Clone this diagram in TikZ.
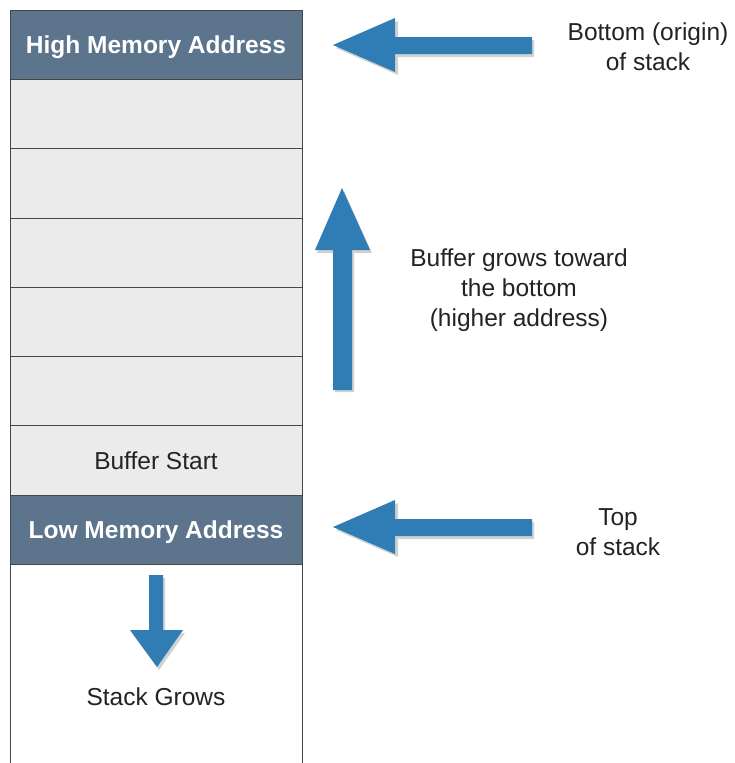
\documentclass[tikz,border=0pt]{standalone}
\usepackage{fontspec}
\setmainfont{Liberation Sans}
\definecolor{hdr}{RGB}{92,117,141}
\definecolor{rowgray}{RGB}{235,235,235}
\definecolor{edge}{RGB}{70,70,70}
\definecolor{ablue}{RGB}{47,125,180}
\definecolor{txt}{RGB}{35,35,35}
\tikzset{
  cell/.style={draw=edge, line width=0.8pt, minimum width=292pt, minimum height=69.25pt, inner sep=0pt, outer sep=0pt, text height=17.5pt, text depth=0pt},
  hdrcell/.style={cell, fill=hdr, text=white, font=\bfseries\fontsize{24.5}{30}\selectfont},
  graycell/.style={cell, fill=rowgray, text=txt, font=\fontsize{24.5}{30}\selectfont},
  lbl/.style={align=center, text=txt, font=\fontsize{24.5}{30}\selectfont, inner sep=0pt},
  bigarrow/.style={fill=ablue, draw=none},
  ashadow/.style={fill=black, opacity=0.18, draw=none},
}
\begin{document}
\begin{tikzpicture}[x=1pt, y=-1pt]
\path[use as bounding box, fill=white] (0,0) rectangle (735,763);
% bottom white region (open at the bottom)
\draw[edge, line width=0.8pt] (10,564) -- (10,770) (302,564) -- (302,770);
% stack cells
\node[hdrcell] (high) at (156,44.75) {High Memory Address};
\node[graycell] (r1) at (156,114.1) {};
\node[graycell] (r2) at (156,183.4) {};
\node[graycell] (r3) at (156,252.6) {};
\node[graycell] (r4) at (156,321.9) {};
\node[graycell] (r5) at (156,391.1) {};
\node[graycell] (bufstart) at (156,460.4) {Buffer Start};
\node[hdrcell] (low) at (156,529.7) {Low Memory Address};
% labels
\node[lbl] (bottomlbl) at (648,47) {Bottom (origin)\\of stack};
\node[lbl] (growlbl) at (519,290) {Buffer grows toward\\the bottom\\(higher address)};
\node[lbl] (toplbl) at (618,532) {Top\\of stack};
\node[lbl] (stackgrows) at (156,697) {Stack Grows};
% arrow shadows
\fill[ashadow] (336,48) -- (398,21) -- (398,40) -- (534,40) -- (534,57) -- (398,57) -- (398,75) -- cycle;
\fill[ashadow] (336,530) -- (398,503) -- (398,522) -- (534,522) -- (534,539) -- (398,539) -- (398,557) -- cycle;
\fill[ashadow] (344,191) -- (372,253) -- (354,253) -- (354,392) -- (335,392) -- (335,253) -- (317,253) -- cycle;
\fill[ashadow] (150,578) -- (165,578) -- (165,633) -- (185,633) -- (159,670) -- (132,633) -- (150,633) -- cycle;
% arrows
\fill[bigarrow] (333,45) -- (395,18) -- (395,37) -- (532,37) -- (532,54) -- (395,54) -- (395,72) -- cycle;
\fill[bigarrow] (333,527) -- (395,500) -- (395,519) -- (532,519) -- (532,536) -- (395,536) -- (395,554) -- cycle;
\fill[bigarrow] (342,188) -- (370,250) -- (352,250) -- (352,390) -- (333,390) -- (333,250) -- (315,250) -- cycle;
\fill[bigarrow] (149,575) -- (163,575) -- (163,630) -- (183,630) -- (157,667) -- (130,630) -- (149,630) -- cycle;
\end{tikzpicture}
\end{document}
